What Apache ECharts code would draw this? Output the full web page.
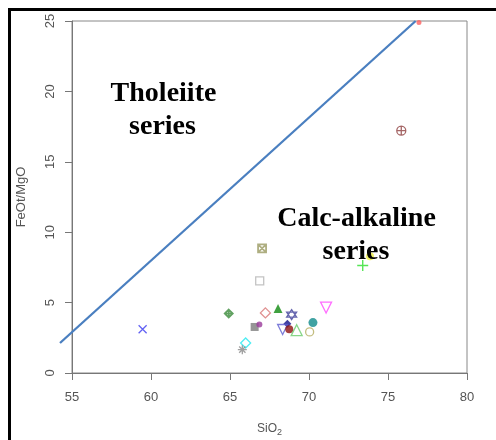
<!DOCTYPE html>
<html>
<head>
<meta charset="utf-8">
<script src="https://cdn.jsdelivr.net/npm/echarts@6/dist/echarts.min.js"></script>
<style>
  html, body { margin: 0; padding: 0; background: #fff; }
  #chart { width: 496px; height: 440px; }
</style>
</head>
<body>
<div id="chart"></div>
<script>
// Sample compositions: SiO2 (wt%) and FeOt/MgO ratio
const sampleSiO2 = [59.47, 64.92, 65.99, 65.78, 67.03, 66.88, 66.56, 66.86, 67.24, 68.04, 68.90,
                    68.63, 68.33, 68.75, 69.22, 70.04, 70.25, 71.08, 73.40, 73.86, 75.84, 76.96];
const sampleRatio = [3.11, 4.22, 2.13, 1.66, 8.85, 6.54, 3.27, 3.44, 4.27, 4.58, 4.15,
                     3.49, 3.09, 3.11, 3.04, 2.92, 3.58, 4.65, 7.64, 8.30, 17.21, 24.9];

// Tholeiite / calc-alkaline dividing line
const boundarySiO2 = [54.24, 76.75];
const boundaryRatio = [2.13, 25];

// Axis ticks
const xTicks = [55, 60, 65, 70, 75, 80];
const yTicks = [0, 5, 10, 15, 20, 25];

// Marker appearance for each sample (symbol, colour, open/filled)
const P = {
  cross: 'path://M0,0L10,10M10,0L0,10',
  plus: 'path://M5,0L5,10M0,5L10,5',
  asterisk: 'path://M5,0L5,10M0,5L10,5M1.5,1.5L8.5,8.5M8.5,1.5L1.5,8.5',
  boxX: 'path://M0,0L10,0L10,10L0,10ZM0,0L10,10M10,0L0,10',
  diamondPlus: 'path://M5,0L10,5L5,10L0,5ZM5,0L5,10M0,5L10,5',
  circlePlus: 'path://M0,5A5,5,0,1,1,10,5A5,5,0,1,1,0,5ZM5,0L5,10M0,5L10,5',
  star: 'path://M5,0L10,8.66L0,8.66ZM5,11.55L0,2.89L10,2.89Z'
};
const markerStyles = [
  { s: P.cross, c: '#3b3bf0', open: true, size: 8 },
  { s: P.diamondPlus, c: '#3a8a3a', open: true, size: 8, bw: 1.8 },
  { s: 'diamond', c: '#22e8f0', open: true, size: 10 },
  { s: P.asterisk, c: '#888888', open: true, size: 9 },
  { s: P.boxX, c: '#9a9a62', open: true, size: 8, bw: 1.8 },
  { s: 'rect', c: '#b4b4b4', open: true, size: 8 },
  { s: 'rect', c: '#7a7a7a', open: false, size: 8 },
  { s: 'circle', c: '#9a3a9a', open: false, size: 6 },
  { s: 'diamond', c: '#d87474', open: true, size: 10 },
  { s: 'triangle', c: '#108a10', open: false, size: 9 },
  { s: P.star, c: '#3e3e9a', open: true, size: 10 },
  { s: 'diamond', c: '#10108a', open: false, size: 8 },
  { s: 'triangle', c: '#5c5ccf', open: true, size: 10, rot: 180 },
  { s: 'circle', c: '#8e1010', open: false, size: 8 },
  { s: 'triangle', c: '#6ccc6c', open: true, size: 11 },
  { s: 'circle', c: '#b4ac60', open: true, size: 8 },
  { s: 'circle', c: '#108b8b', open: false, size: 9 },
  { s: 'triangle', c: '#ff4aff', open: true, size: 11, rot: 180 },
  { s: P.plus, c: '#2ade2a', open: true, size: 11, bw: 1.4 },
  { s: 'circle', c: '#eeee44', open: false, size: 8 },
  { s: P.circlePlus, c: '#8e4040', open: true, size: 9 },
  { s: 'circle', c: '#ff6060', open: false, size: 5 }
];

const points = sampleSiO2.map((x, i) => {
  const m = markerStyles[i];
  return {
    value: [x, sampleRatio[i]],
    symbol: m.s,
    symbolSize: m.size,
    symbolRotate: m.rot || 0,
    itemStyle: m.open
      ? { color: 'rgba(0,0,0,0)', borderColor: m.c, borderWidth: m.bw || 1.3 }
      : { color: m.c, borderWidth: 0 }
  };
});

const chart = echarts.init(document.getElementById('chart'), null, { renderer: 'canvas' });

const sans = 'Liberation Sans, Arial, sans-serif';
const serifBold = 'bold 28px "Liberation Serif", "Times New Roman", serif';
const axisText = { color: '#555', fontFamily: sans, fontSize: 13 };

// region label: x is the text centre, y the top of the line box
function regionLabel(text, x, y) {
  return {
    type: 'text', x: x, y: y, z: 10,
    style: { text: text, align: 'center', verticalAlign: 'top', font: serifBold, fill: '#000' }
  };
}

chart.setOption({
  animation: false,
  backgroundColor: '#fff',
  grid: {
    left: 72, top: 21, right: 29, bottom: 67,
    outerBoundsMode: 'none', containLabel: false,
    show: true, borderColor: '#888', borderWidth: 1
  },
  xAxis: {
    type: 'value', min: xTicks[0], max: xTicks[xTicks.length - 1], interval: 5,
    axisLine: { show: true, lineStyle: { color: '#777', width: 1 } },
    axisTick: { show: true, length: 7, lineStyle: { color: '#777' } },
    axisLabel: Object.assign({ margin: 18 }, axisText),
    splitLine: { show: false },
    name: '{a|SiO}{b|2}', nameLocation: 'middle', nameGap: 47,
    nameTextStyle: {
      rich: {
        a: { color: '#555', fontFamily: sans, fontSize: 12 },
        b: { color: '#555', fontFamily: sans, fontSize: 9, padding: [8, 0, 0, 0] }
      }
    }
  },
  yAxis: {
    type: 'value', min: yTicks[0], max: yTicks[yTicks.length - 1], interval: 5,
    axisLine: { show: true, lineStyle: { color: '#777', width: 1 } },
    axisTick: { show: true, length: 7, lineStyle: { color: '#777' } },
    axisLabel: Object.assign({ margin: 15, rotate: 90 }, axisText),
    splitLine: { show: false },
    name: 'FeOt/MgO', nameLocation: 'middle', nameGap: 44, nameRotate: 90,
    nameTextStyle: { color: '#555', fontFamily: sans, fontSize: 13 }
  },
  series: [
    {
      // boundary drawn unclipped so it runs a little past the left axis
      type: 'custom',
      data: [0],
      clip: false,
      renderItem: function (params, api) {
        const pts = boundarySiO2.map((x, i) => api.coord([x, boundaryRatio[i]]));
        return {
          type: 'polyline',
          shape: { points: pts },
          style: { stroke: '#4a7fc0', lineWidth: 2.3, fill: null }
        };
      },
      z: 2
    },
    {
      type: 'scatter',
      data: points,
      clip: false,
      z: 3
    }
  ],
  graphic: [
    // outer frame
    { type: 'rect', shape: { x: 8, y: 8, width: 3, height: 440 }, style: { fill: '#000' } },
    { type: 'rect', shape: { x: 8, y: 8, width: 496, height: 3 }, style: { fill: '#000' } },
    // region labels
    regionLabel('Tholeiite', 163.5, 80),
    regionLabel('series', 162.5, 113),
    regionLabel('Calc-alkaline', 356.5, 205),
    regionLabel('series', 356, 238)
  ]
});
</script>
</body>
</html>
